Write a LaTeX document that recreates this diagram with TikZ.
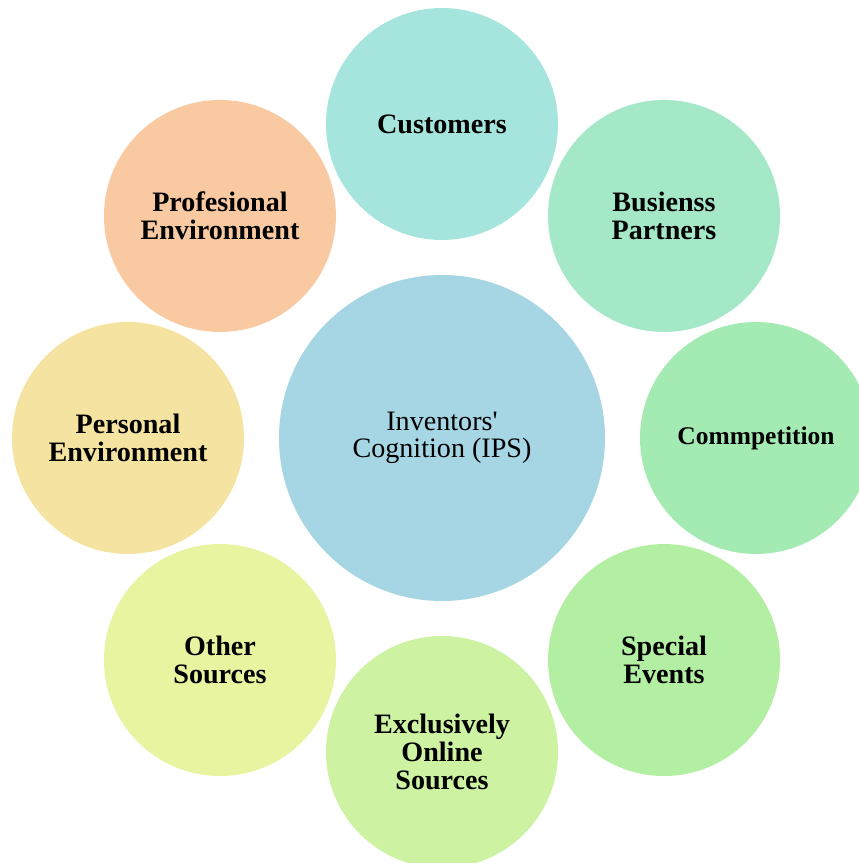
\documentclass[tikz,border=0pt]{standalone}
\usepackage{fontspec}
\setmainfont{Liberation Serif}
\newfontfamily\hubfont{Liberation Serif}
\usetikzlibrary{calc}
\definecolor{ipsblue}{HTML}{A6D5E3}
\definecolor{cust}{HTML}{A5E5DD}
\definecolor{bpart}{HTML}{A5E8C8}
\definecolor{comp}{HTML}{A4EBB3}
\definecolor{sevent}{HTML}{B2EFA2}
\definecolor{online}{HTML}{CCF2A2}
\definecolor{other}{HTML}{E8F4A0}
\definecolor{persenv}{HTML}{F5E4A1}
\definecolor{profenv}{HTML}{F9C9A2}
\tikzset{
    hub/.style={circle, fill=ipsblue, minimum size=6.52cm, inner sep=0pt, align=center,
        font=\hubfont\fontsize{16}{15.5}\selectfont},
    source/.style={circle, minimum size=4.64cm, inner sep=0pt, align=center,
        font=\fontsize{16}{16}\selectfont\bfseries},
}
\begin{document}
\begin{tikzpicture}
    \useasboundingbox (0, 0) rectangle (17.16, 17.26);
    \node[hub] (ips) at (8.84, 8.5) {Inventors'\\Cognition (IPS)};
    \foreach \i/\c/\t in {90/cust/{Customers},
                         45/bpart/{Busienss\\Partners},
                         0/comp/{\fontsize{14.5}{16}\selectfont Commpetition},
                         -45/sevent/{Special\\Events},
                         -90/online/{Exclusively\\Online\\Sources},
                         -135/other/{Other\\Sources},
                         180/persenv/{Personal\\Environment},
                         135/profenv/{Profesional\\Environment}} {
        \node[source, fill=\c] (src\c) at ($(ips) + (\i:6.28)$) {\t};
    }
\end{tikzpicture}
\end{document}
